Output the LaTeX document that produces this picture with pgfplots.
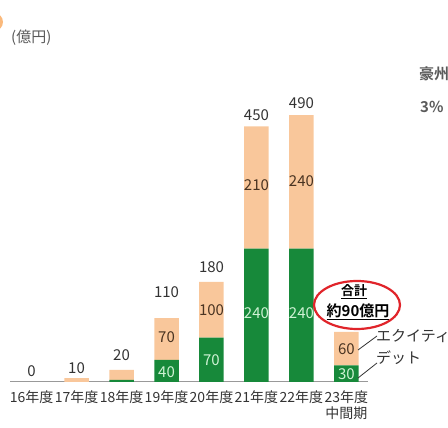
\documentclass[border=0pt]{standalone}
\usepackage{fontspec}
\setmainfont{Noto Sans CJK JP}[BoldFont={Noto Sans CJK JP Bold}]
\usepackage{pgfplots}
\pgfplotsset{compat=1.18}
\definecolor{dgreen}{HTML}{17893A}
\definecolor{lorange}{HTML}{F9C79B}
\definecolor{tgray}{HTML}{333333}
\definecolor{lbrown}{HTML}{4A3422}
\definecolor{mint}{HTML}{CFF2D4}
\definecolor{ared}{HTML}{E0242A}
\definecolor{lgray}{HTML}{5A5A5A}
\begin{document}
\begin{tikzpicture}
\useasboundingbox (0,0) rectangle (448pt,428pt);
\clip (0,0) rectangle (448pt,428pt);
\fill[lorange!80!orange] (-6pt,406pt) circle (9pt);
% bars
\begin{axis}[
  at={(10pt,46pt)}, anchor=south west, scale only axis,
  width=358pt, height=289pt,
  xmin=-0.48, xmax=7.48, ymin=0, ymax=520, enlargelimits=false,
  ybar stacked, bar width=24.5pt,
  separate axis lines, axis x line=bottom, hide y axis,
  x axis line style={-, draw=gray!80, line width=1pt},
  xtick={0,...,7}, major tick length=0pt,
  xticklabels={16年度,17年度,18年度,19年度,20年度,21年度,22年度,{23年度\\中間期}},
  xticklabel style={align=center, font=\fontsize{14}{16}\selectfont, text=tgray, inner sep=2pt, yshift=-6pt},
  clip=false,
]
\addplot[fill=dgreen, draw=none] coordinates {(0,0) (1,0) (2,4) (3,40) (4,80) (5,240) (6,240) (7,30)};
\addplot[fill=lorange, draw=none] coordinates {(0,0) (1,7) (2,18) (3,75) (4,100) (5,220) (6,240) (7,60)};
\end{axis}
% labels
\begin{axis}[
  at={(10pt,46pt)}, anchor=south west, scale only axis,
  width=358pt, height=289pt,
  xmin=-0.48, xmax=7.48, ymin=0, ymax=520, enlargelimits=false,
  hide axis, clip=false,
  nodes near coords, point meta=explicit symbolic,
  every node near coord/.append style={anchor=center, inner sep=0pt, font=\fontsize{15}{16}\selectfont},
]
\addplot[draw=none, mark=none, every node near coord/.append style={text=tgray}]
  coordinates {(0,20)[0] (1,25)[10] (2,49)[20] (3,162)[110] (4,207)[180] (5,480)[450] (6,502)[490]};
\addplot[draw=none, mark=none, every node near coord/.append style={text=mint}]
  coordinates {(3,18)[40] (4,40)[70] (5,124)[240] (6,124)[240] (7,14)[30]};
\addplot[draw=none, mark=none, every node near coord/.append style={text=lbrown}]
  coordinates {(3,81)[70] (4,130)[100] (5,354)[210] (6,362)[240] (7,59)[60]};
\end{axis}
% annotations
\node[anchor=west, text=lgray, font=\fontsize{15}{16}\selectfont, inner sep=0pt] at (11pt,390pt) {(億円)};
\node[anchor=west, text=lgray, font=\bfseries\fontsize{15}{16}\selectfont, inner sep=0pt] at (419pt,354pt) {豪州};
\node[anchor=west, text=lgray, font=\bfseries\fontsize{15}{16}\selectfont, inner sep=0pt] at (420pt,321pt) {3\%};
\draw[ared, line width=2.2pt] (357pt,123pt) ellipse (43pt and 24pt);
\node[text=black, font=\bfseries\fontsize{13}{14}\selectfont, inner sep=0pt] at (354pt,136pt) {\underline{合計}};
\node[text=black, font=\bfseries\fontsize{15}{16}\selectfont, inner sep=0pt] at (358pt,116pt) {\underline{約90億円}};
\draw[tgray, line width=0.8pt] (358pt,78pt) -- (377pt,92pt);
\draw[tgray, line width=0.8pt] (358pt,50pt) -- (377pt,65pt);
\node[anchor=west, text=tgray, font=\fontsize{15}{16}\selectfont, inner sep=0pt] at (376pt,92pt) {エクイティ};
\node[anchor=west, text=tgray, font=\fontsize{15}{16}\selectfont, inner sep=0pt] at (376pt,70pt) {デット};
\end{tikzpicture}
\end{document}
